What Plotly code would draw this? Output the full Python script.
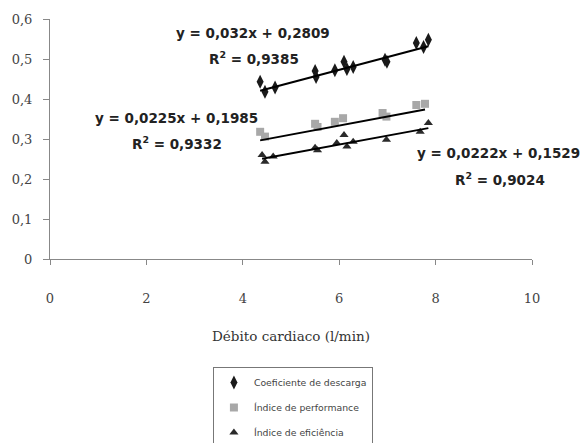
import numpy as np
import plotly.graph_objects as go

# Data
x_desc = [4.36, 4.46, 4.67, 5.50, 5.52, 5.91, 6.10, 6.16, 6.29, 6.95, 6.99, 7.60, 7.75, 7.85]
y_desc = [0.443, 0.418, 0.429, 0.470, 0.455, 0.472, 0.493, 0.475, 0.480, 0.498, 0.493, 0.540, 0.530, 0.548]

x_perf = [4.36, 4.46, 5.50, 5.55, 5.91, 6.08, 6.90, 6.98, 7.60, 7.78]
y_perf = [0.318, 0.306, 0.338, 0.330, 0.343, 0.352, 0.365, 0.356, 0.385, 0.388]

x_efic = [4.40, 4.46, 4.63, 5.50, 5.55, 5.95, 6.10, 6.16, 6.29, 6.98, 7.68, 7.85]
y_efic = [0.260, 0.243, 0.256, 0.278, 0.272, 0.290, 0.310, 0.281, 0.293, 0.298, 0.318, 0.340]

names = ["Coeficiente de descarga", "Índice de performance", "Índice de eficiência"]
slopes = [0.032, 0.0225, 0.0222]
intercepts = [0.2809, 0.1985, 0.1529]
eq_labels = ["y = 0,032x + 0,2809", "y = 0,0225x + 0,1985", "y = 0,0222x + 0,1529"]
r2_labels = ["R<sup>2</sup> = 0,9385", "R<sup>2</sup> = 0,9332", "R<sup>2</sup> = 0,9024"]

x_ticks = [0, 2, 4, 6, 8, 10]
y_ticks = [0, 0.1, 0.2, 0.3, 0.4, 0.5, 0.6]

series = [(x_desc, y_desc), (x_perf, y_perf), (x_efic, y_efic)]
symbols = ["diamond-tall", "square", "triangle-up"]
colors = ["#1a1a1a", "#a8a8a8", "#2a2a2a"]
sizes = [10, 8, 8]

fig = go.Figure()

for i, (xs, ys) in enumerate(series):
    fig.add_trace(go.Scatter(
        x=xs, y=ys, mode="markers", name=names[i],
        legendgroup=f"g{i}",
        marker=dict(symbol=symbols[i], color=colors[i], size=sizes[i],
                    line=dict(width=0)),
    ))
    xl = np.array([min(xs), max(xs)])
    fig.add_trace(go.Scatter(
        x=xl, y=slopes[i] * xl + intercepts[i], mode="lines",
        line=dict(color="black", width=2), showlegend=False, hoverinfo="skip",
    ))

# Equation annotations (positions in data coordinates)
ann_pos = [((4.22, 0.565), (4.24, 0.502)), ((2.62, 0.353), (2.64, 0.29)),
           ((9.3, 0.265), (9.33, 0.2))]
bold = dict(family="DejaVu Sans, sans-serif", size=13.5, color="#222")
for i in range(3):
    (ex, ey), (rx, ry) = ann_pos[i]
    fig.add_annotation(x=ex, y=ey, text=f"<b>{eq_labels[i]}</b>", showarrow=False,
                       font=bold, xanchor="center", yanchor="middle")
    fig.add_annotation(x=rx, y=ry, text=f"<b>{r2_labels[i]}</b>", showarrow=False,
                       font=bold, xanchor="center", yanchor="middle")

serif = dict(family="DejaVu Serif, serif", size=13, color="#444")

fig.update_layout(
    width=582, height=470,
    margin=dict(l=50, r=50, t=19, b=211),
    plot_bgcolor="white", paper_bgcolor="white",
    separators=",.",
    showlegend=True,
    legend=dict(x=0.338, y=-0.45, xanchor="left", yanchor="top",
                bordercolor="#777", borderwidth=1,
                font=dict(family="DejaVu Sans, sans-serif", size=9.3, color="#444"),
                tracegroupgap=6, itemwidth=30,
                bgcolor="white"),
    xaxis=dict(range=[0, 10], tickvals=x_ticks, showgrid=False, zeroline=False,
               showline=True, linecolor="#888", linewidth=1,
               ticks="outside", ticklen=5, tickcolor="#888",
               tickfont=serif, ticklabelstandoff=22, automargin=False,
               title=dict(text="Débito cardiaco (l/min)",
                          font=dict(family="DejaVu Serif, serif", size=13.5, color="#333"),
                          standoff=26)),
    yaxis=dict(range=[0, 0.6], tickvals=y_ticks, showgrid=False, zeroline=False,
               showline=True, linecolor="#888", linewidth=1,
               ticks="outside", ticklen=6, tickcolor="#888", automargin=False,
               tickfont=serif, ticklabelstandoff=8),
)

fig.write_html("out.html", config={"displayModeBar": False},
               post_script="document.body.style.margin='0';document.body.style.overflow='hidden';")
